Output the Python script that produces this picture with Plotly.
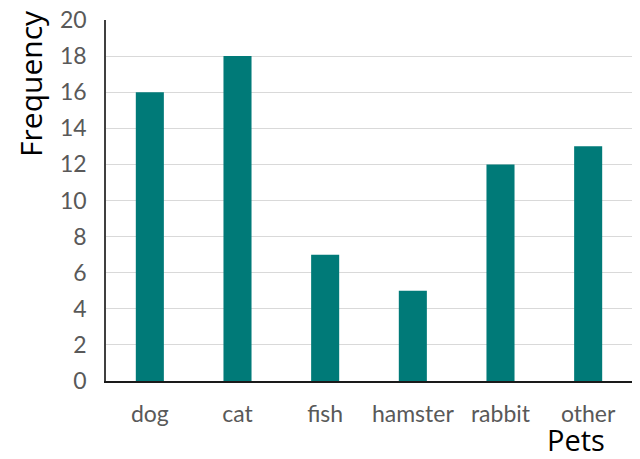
import plotly.graph_objects as go

pets = ['dog', 'cat', 'fish', 'hamster', 'rabbit', 'other']
frequency = [16, 18, 7, 5, 12, 13]
y_ticks = list(range(0, 21, 2))

fig = go.Figure()
fig.add_bar(x=pets, y=frequency, marker=dict(color='#007A78', line=dict(width=0)))

# page body adds an 8px offset, so margins are shifted to keep the plot in place
fig.update_layout(
    width=640, height=459,
    margin=dict(l=98, r=16, t=12, b=86),
    plot_bgcolor='white', paper_bgcolor='white',
    bargap=0.68,
    showlegend=False,
    font=dict(family='Lato, Open Sans, sans-serif', size=23, color='#595959'),
)
fig.update_yaxes(range=[0, 20], tickvals=y_ticks, showgrid=True, gridcolor='#d9d9d9',
                 gridwidth=1, showline=True, linecolor='#404040', linewidth=1.5,
                 ticks='', zeroline=False, ticklabelstandoff=13, automargin=False,
                 ticklabeloverflow='allow')
fig.update_xaxes(showline=True, linecolor='#1a1a1a', linewidth=1.5, ticks='',
                 ticklabelstandoff=12, automargin=False)

# axis titles placed like the original
fig.add_annotation(text='Frequency', x=-0.145, y=0.825, xref='paper', yref='paper',
                   xanchor='center', yanchor='middle',
                   textangle=-90, showarrow=False,
                   font=dict(family='Open Sans, sans-serif', size=30, color='black'))
fig.add_annotation(text='Pets', x=0.893, y=-0.162, xref='paper', yref='paper',
                   xanchor='center', yanchor='middle', showarrow=False,
                   font=dict(family='Open Sans, sans-serif', size=29, color='black'))

fig.write_html("out.html")
